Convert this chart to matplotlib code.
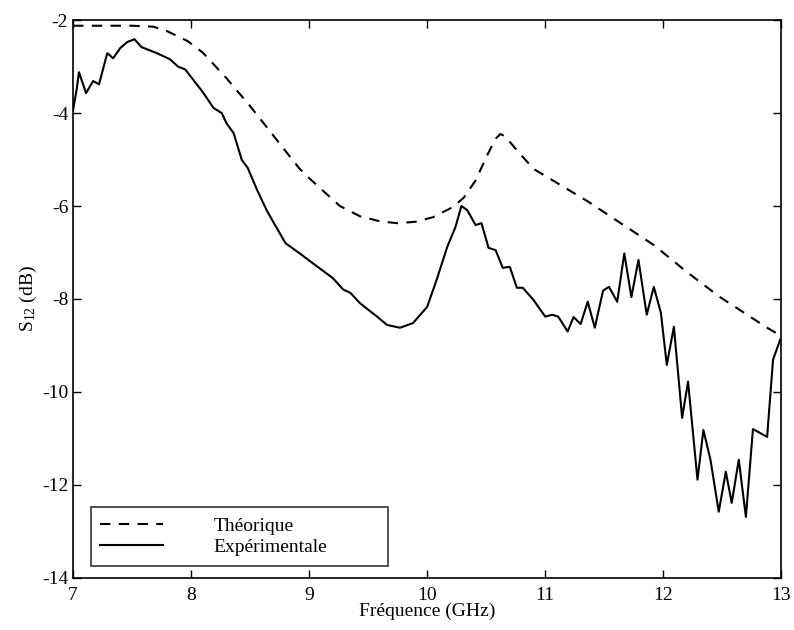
import matplotlib.pyplot as plt

plt.rcParams['font.family'] = ['Liberation Serif', 'DejaVu Serif']
plt.rcParams['mathtext.fontset'] = 'custom'
plt.rcParams['mathtext.rm'] = 'Liberation Serif'
plt.rcParams['mathtext.it'] = 'Liberation Serif'
plt.rcParams['axes.unicode_minus'] = False

# Theoretical response (dashed)
f_theo = [7.0, 7.5, 7.68, 7.8, 7.97, 8.1, 8.3, 8.5, 8.64, 8.81, 8.92, 9.0, 9.26, 9.43,
          9.6, 9.75, 9.9, 10.05, 10.22, 10.31, 10.41, 10.51, 10.58, 10.62, 10.66,
          10.76, 10.9, 11.0, 11.13, 11.36, 11.64, 11.92, 12.2, 12.48, 12.88, 13.0]
s_theo = [-2.12, -2.12, -2.14, -2.24, -2.45, -2.7, -3.25, -3.85, -4.3, -4.85, -5.2,
          -5.4, -6.0, -6.22, -6.33, -6.37, -6.34, -6.24, -6.02, -5.82, -5.45, -4.9,
          -4.55, -4.45, -4.5, -4.8, -5.2, -5.35, -5.55, -5.9, -6.37, -6.84, -7.42,
          -7.96, -8.62, -8.8]

# Measured response (solid)
f_exp = [7.0, 7.03, 7.05, 7.11, 7.17, 7.22, 7.29, 7.34, 7.4, 7.46, 7.52, 7.58, 7.71,
         7.82, 7.89, 7.95, 8.02, 8.1, 8.19, 8.26, 8.3, 8.36, 8.43, 8.48, 8.56, 8.64,
         8.72, 8.8, 8.92, 9.03, 9.2, 9.29, 9.35, 9.43, 9.58, 9.66, 9.77, 9.88, 10.0,
         10.08, 10.17, 10.24, 10.29, 10.34, 10.41, 10.46, 10.52, 10.58, 10.64, 10.7,
         10.76, 10.81, 10.9, 11.0, 11.06, 11.11, 11.19, 11.24, 11.3, 11.36, 11.42,
         11.49, 11.54, 11.61, 11.67, 11.73, 11.79, 11.86, 11.92, 11.98, 12.03, 12.09,
         12.16, 12.21, 12.29, 12.34, 12.4, 12.47, 12.53, 12.58, 12.64, 12.7, 12.76,
         12.88, 12.93, 12.99]
s_exp = [-3.94, -3.5, -3.12, -3.57, -3.31, -3.38, -2.71, -2.82, -2.6, -2.47, -2.41,
         -2.58, -2.71, -2.84, -3.0, -3.06, -3.29, -3.55, -3.89, -4.0, -4.22, -4.43,
         -5.01, -5.18, -5.66, -6.09, -6.45, -6.8, -7.02, -7.23, -7.55, -7.8, -7.87,
         -8.09, -8.39, -8.56, -8.62, -8.52, -8.17, -7.59, -6.88, -6.45, -6.0, -6.09,
         -6.41, -6.37, -6.9, -6.95, -7.33, -7.31, -7.76, -7.76, -8.02, -8.38, -8.34,
         -8.38, -8.7, -8.39, -8.54, -8.06, -8.62, -7.82, -7.74, -8.06, -7.02, -7.96,
         -7.16, -8.34, -7.74, -8.3, -9.42, -8.6, -10.56, -9.78, -11.89, -10.82,
         -11.46, -12.58, -11.72, -12.39, -11.46, -12.69, -10.8, -10.97, -9.31, -8.88]

fig = plt.figure(figsize=(7.94, 6.3), dpi=100)
ax = fig.add_axes([0.092, 0.083, 0.892, 0.885])

ax.plot(f_theo, s_theo, color='black', linestyle=(0, (5, 4)), linewidth=1.5,
        label='Théorique')
ax.plot(f_exp, s_exp, color='black', linestyle='-', linewidth=1.5,
        label='Expérimentale')

ax.set_xlim(7, 13)
ax.set_ylim(-14, -2)
ax.set_xticks(range(7, 14))
ax.set_yticks(range(-14, -1, 2))
ax.tick_params(direction='in', top=True, right=True, length=6, width=1,
               labelsize=14)
ax.tick_params(axis='x', pad=7)
for sp in ax.spines.values():
    sp.set_linewidth(1.2)

ax.set_xlabel('Fréquence (GHz)', fontsize=14, labelpad=-1)
ax.set_ylabel('S$_{12}$ (dB)', fontsize=14, labelpad=2)

leg = ax.legend(loc='lower left', bbox_to_anchor=(0.025, 0.0215, 0.42, 0.136),
                mode='expand', fontsize=14, frameon=True, fancybox=False,
                handlelength=3.2, handletextpad=2.6, borderaxespad=0,
                borderpad=0.5, labelspacing=0.2)
leg.get_frame().set_edgecolor('black')
leg.get_frame().set_linewidth(1.2)

fig.savefig('out.png', dpi=100)
